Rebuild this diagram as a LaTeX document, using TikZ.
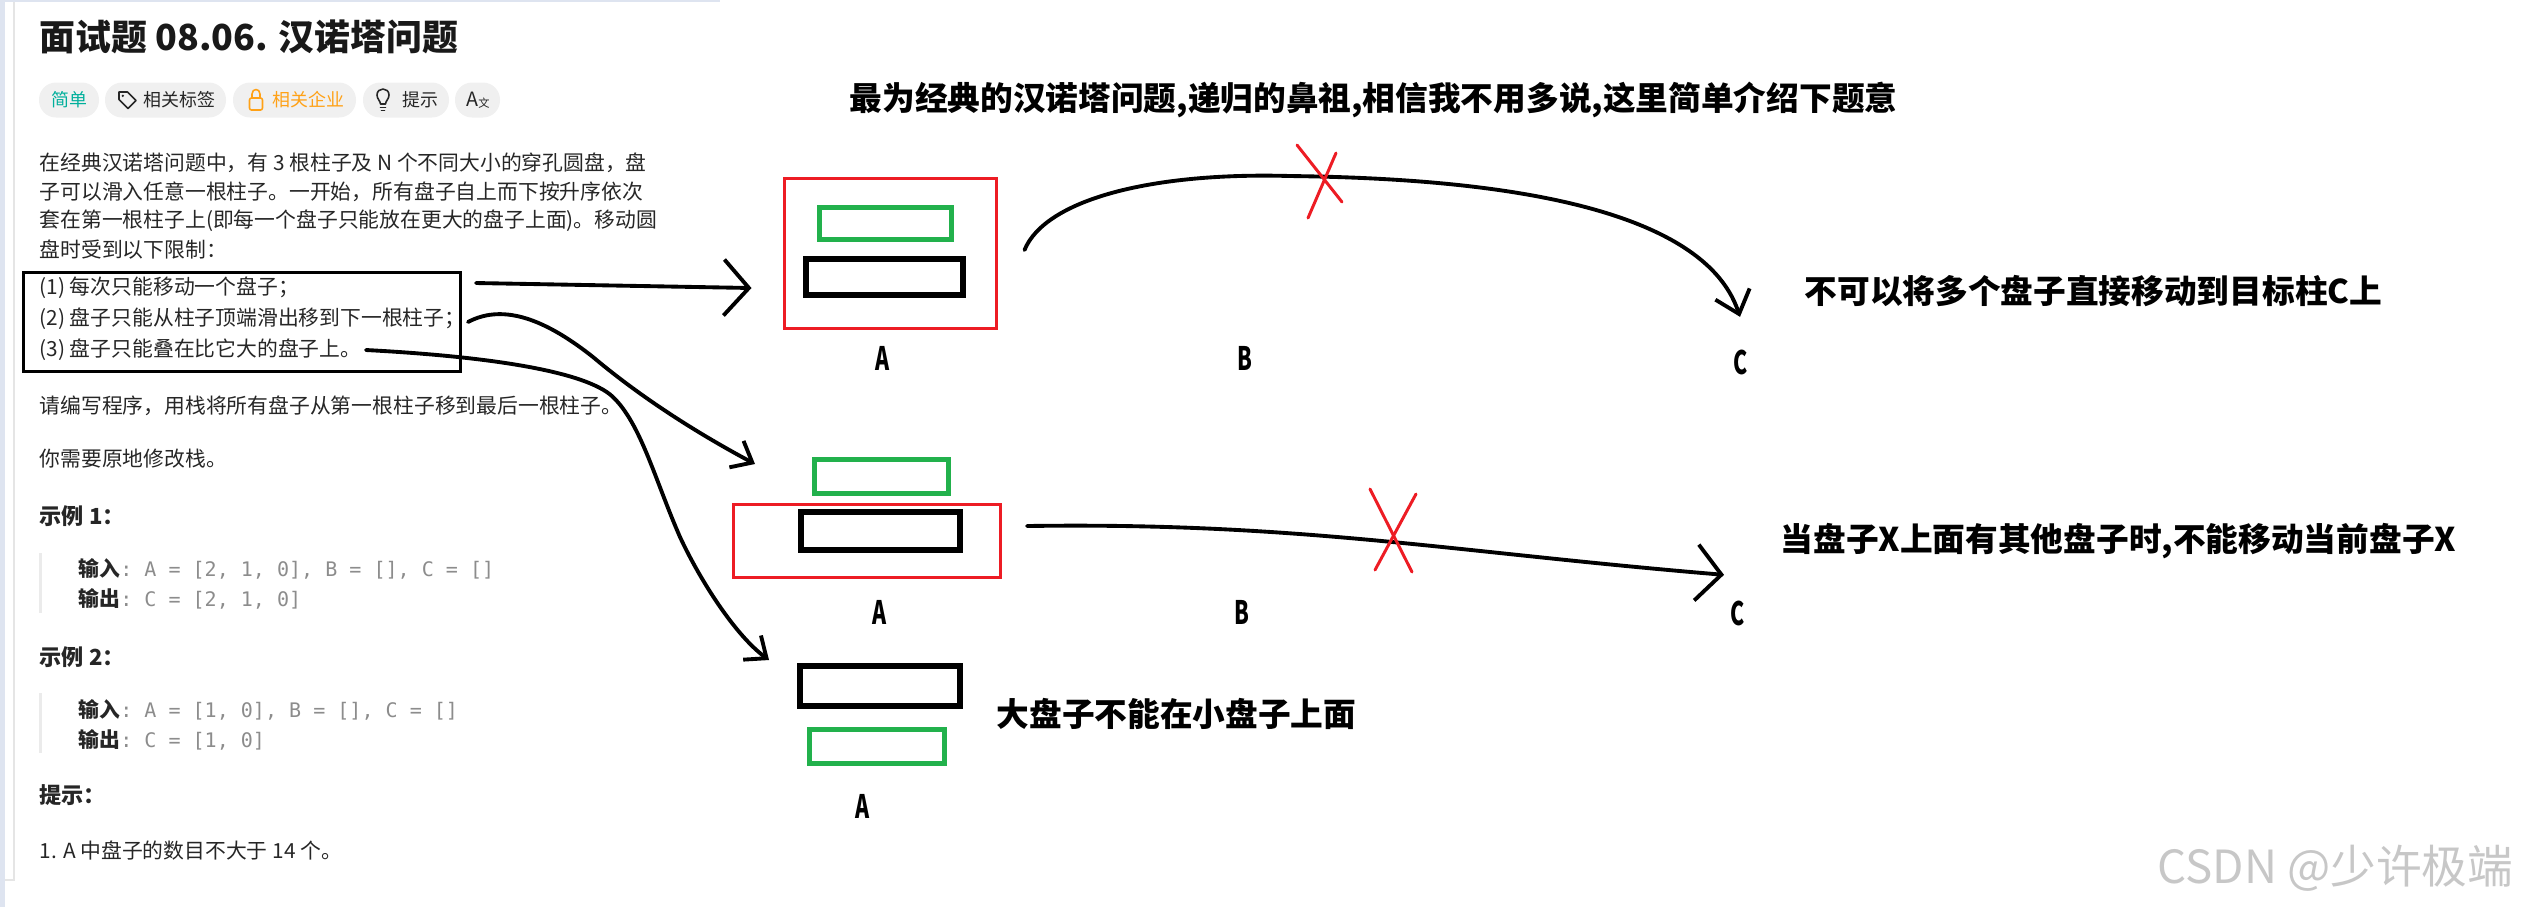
\documentclass[tikz,border=0pt]{standalone}
\usepackage{graphicx}
\usepackage{fontspec}
\setmainfont{Noto Sans CJK SC}
\setmonofont{DejaVu Sans Mono}
\usetikzlibrary{arrows.meta,positioning,calc}
\definecolor{lcText}{RGB}{38,38,38}
\definecolor{lcGray}{RGB}{140,140,140}
\definecolor{lcPill}{RGB}{240,240,240}
\definecolor{lcTeal}{RGB}{0,175,155}
\definecolor{lcOrange}{RGB}{255,161,22}
\definecolor{paintRed}{RGB}{237,28,36}
\definecolor{paintGreen}{RGB}{34,177,76}
\definecolor{panelBlue}{RGB}{222,228,240}
\newcommand\pegname[1]{\scalebox{0.66}[1]{#1}}

\begin{document}
\begin{tikzpicture}[x=0.1mm, y=-0.1mm,
    para/.style={anchor=west, inner sep=0, text=lcText, font=\fontsize{5.92pt}{7pt}\selectfont},
    subhead/.style={para, font=\fontsize{6.3pt}{7pt}\selectfont\bfseries},
    pill/.style={fill=lcPill, rounded corners=1.7mm, minimum height=3.5mm, inner sep=0,
                 font=\fontsize{5.1pt}{6pt}\selectfont},
    pilltext/.style={anchor=west, inner sep=0, font=\fontsize{5.1pt}{6pt}\selectfont},
    icon/.style={line width=0.45pt, line join=round, line cap=round},
    greendisk/.style={draw=paintGreen, line width=1.42pt, inner sep=0},
    blackdisk/.style={draw=black, line width=1.7pt, inner sep=0},
    pegbox/.style={draw=paintRed, line width=0.85pt, inner sep=0},
    peg/.style={inner sep=0, font=\fontsize{9.2pt}{10pt}\selectfont\bfseries},
    note/.style={anchor=west, inner sep=0, font=\fontsize{9.3pt}{10pt}\selectfont\bfseries},
    hand/.style={line width=1.1pt, line cap=round, line join=round},
    barbL/.style={-{Straight Barb[length=2.5mm, width=5.6mm]}},
    barbM/.style={-{Straight Barb[length=2.1mm, width=3.6mm]}},
    barbS/.style={-{Straight Barb[length=1.8mm, width=3.0mm]}},
    cross/.style={paintRed, line width=0.85pt, line cap=round}
  ]
    \useasboundingbox (0,0) rectangle (2526,907);

    % page frame of the problem panel
    \fill[panelBlue] (0,0) rectangle (5,907);
    \fill[panelBlue] (0,0) rectangle (720,2);
    \draw[black!10, line width=0.5pt] (14,2) -- (14,880) -- (5,880);

    % title and tags
    \node[anchor=west, inner sep=0, text=black!90,
          font=\fontsize{10.2pt}{12pt}\selectfont\bfseries] (title) at (39,37)
      {面试题 08.06. 汉诺塔问题};

    \node[pill, minimum width=6mm, text=lcTeal] (easy) at (69,100) {简单};
    \node[pill, minimum width=12.1mm] (tags) at (165.5,100) {};
    \node[pill, minimum width=12.3mm] (company) at (294.5,100) {};
    \node[pill, minimum width=8.6mm] (hint) at (406,100) {};
    \node[pill, minimum width=4.5mm] (lang) at (477.5,100) {};
    \node[pilltext, text=lcText] (tagstext) at (143,100) {相关标签};
    \node[pilltext, text=lcOrange] (companytext) at (272,100) {相关企业};
    \node[pilltext, text=lcText] (hinttext) at (402,100) {提示};
    \node[inner sep=0, text=lcText, font=\fontsize{5.6pt}{6pt}\selectfont] (langA) at (472,99) {A};
    \node[inner sep=0, text=lcText, font=\fontsize{3.2pt}{4pt}\selectfont] (langB) at (484,103) {文};

    % icons
    \draw[icon, lcText] (119,92) -- (127.5,92) -- (136,100.5) -- (128,108.5) -- (119,99.5) -- cycle;
    \fill[lcText] (122.8,95.8) circle (0.13mm);
    \draw[icon, lcOrange, rounded corners=0.2mm] (249.5,98) rectangle (262.5,110);
    \draw[icon, lcOrange] (252,98) -- (252,94) .. controls (252,88) and (260,88) .. (260,94) -- (260,98);
    \draw[icon, lcText] (380.5,104) .. controls (380.5,101) and (377,99) .. (377,95)
      .. controls (377,87) and (389,87) .. (389,95) .. controls (389,99) and (385.5,101) .. (385.5,104) -- cycle;
    \draw[icon, lcText] (380.5,107.5) -- (385.5,107.5);
    \draw[icon, lcText] (381.5,110.5) -- (384.5,110.5);

    % problem text
    \node[para] (intro1) at (39,163) {在经典汉诺塔问题中，有 3 根柱子及 N 个不同大小的穿孔圆盘，盘};
    \node[para] (intro2) at (39,192) {子可以滑入任意一根柱子。一开始，所有盘子自上而下按升序依次};
    \node[para] (intro3) at (39,221) {套在第一根柱子上(即每一个盘子只能放在更大的盘子上面)。移动圆};
    \node[para] (intro4) at (39,250) {盘时受到以下限制：};

    \node[draw, line width=0.85pt, inner sep=0, minimum width=43.7mm, minimum height=9.9mm]
      (rules) at (242,322) {};
    \node[para] (item1) at (39,288) {(1) 每次只能移动一个盘子；};
    \node[para] (item2) at (39,319) {(2) 盘子只能从柱子顶端滑出移到下一根柱子；};
    \node[para] (item3) at (39,350) {(3) 盘子只能叠在比它大的盘子上。};

    \node[para] (task) at (39,406) {请编写程序，用栈将所有盘子从第一根柱子移到最后一根柱子。};
    \node[para] (inplace) at (39,459) {你需要原地修改栈。};

    \node[subhead] (ex1) at (39,516) {示例 1：};
    \fill[black!8] (39,553) rectangle (42,613);
    \node[para] (ex1in) at (78,569) {{\bfseries 输入}{\color{lcGray}\ttfamily\fontsize{5.7pt}{7pt}\selectfont: A = [2, 1, 0], B = [], C = []}};
    \node[para] (ex1out) at (78,599) {{\bfseries 输出}{\color{lcGray}\ttfamily\fontsize{5.7pt}{7pt}\selectfont: C = [2, 1, 0]}};

    \node[subhead] (ex2) at (39,657) {示例 2：};
    \fill[black!8] (39,693) rectangle (42,753);
    \node[para] (ex2in) at (78,710) {{\bfseries 输入}{\color{lcGray}\ttfamily\fontsize{5.7pt}{7pt}\selectfont: A = [1, 0], B = [], C = []}};
    \node[para] (ex2out) at (78,740) {{\bfseries 输出}{\color{lcGray}\ttfamily\fontsize{5.7pt}{7pt}\selectfont: C = [1, 0]}};

    \node[subhead] (tips) at (39,795) {提示：};
    \node[para] (tip1) at (39,850) {1. A 中盘子的数目不大于 14 个。};

    % first sketch: several disks at once
    \node[note] (intronote) at (849,100)
      {最为经典的汉诺塔问题,递归的鼻祖,相信我不用多说,这里简单介绍下题意};
    \node[pegbox, minimum width=21.2mm, minimum height=15.0mm] (stackA) at (890,253.5) {};
    \node[greendisk, minimum width=13.2mm, minimum height=3.2mm] (smallA) at (885.5,223.5) {};
    \node[blackdisk, minimum width=15.7mm, minimum height=3.6mm] (bigA) at (884.5,277) {};
    \node[peg] (pegA1) at (883,358) {\pegname{A}};
    \node[peg] (pegB1) at (1245,358) {\pegname{B}};
    \node[peg] (pegC1) at (1741,362) {\pegname{C}};
    \node[note] (note1) at (1804,291) {不可以将多个盘子直接移动到目标柱C上};

    % second sketch: disk below another one
    \node[greendisk, minimum width=13.4mm, minimum height=3.4mm] (smallA2) at (881.5,476.5) {};
    \node[pegbox, minimum width=26.7mm, minimum height=7.3mm] (stackA2) at (867,541) {};
    \node[blackdisk, minimum width=15.9mm, minimum height=3.8mm] (bigA2) at (880.5,531) {};
    \node[peg] (pegA2) at (880,612) {\pegname{A}};
    \node[peg] (pegB2) at (1242,612) {\pegname{B}};
    \node[peg] (pegC2) at (1738,613) {\pegname{C}};
    \node[note] (note2) at (1780,541) {当盘子X上面有其他盘子时,不能移动当前盘子X};

    % third sketch: big disk on small one
    \node[blackdisk, minimum width=16.0mm, minimum height=4.0mm] (bigA3) at (880,686) {};
    \node[greendisk, minimum width=13.5mm, minimum height=3.4mm] (smallA3) at (877,746.5) {};
    \node[peg] (pegA3) at (863,806) {\pegname{A}};
    \node[note] (note3) at (996,714) {大盘子不能在小盘子上面};

    % hand drawn arrows
    \draw[hand, barbL] ($(rules.east |- 0,283)+(14,0)$) -- ($(stackA.west)+(-31,34.5)$);
    \draw[hand, barbS] ($(rules.east)+(6,0)$)
      .. controls (500,305) and (540,315) .. (593,357)
      .. controls (650,405) and (712,441) .. ($(smallA2.west)+(-57,-12.5)$);
    \draw[hand, barbS] ($(item3.east)+(4,0)$)
      .. controls (480,356) and (585,370) .. (613,397)
      .. controls (641,424) and (655,480) .. (680,537)
      .. controls (700,580) and (735,635) .. ($(bigA3.west)+(-28,-26)$);
    \draw[hand, barbM] ($(stackA.east)+(27,-3.5)$)
      .. controls (1045,200) and (1150,172) .. (1290,176)
      .. controls (1450,178) and (1700,195) .. ($(pegC1.north)+(-1,-32)$);
    \draw[hand, barbL] ($(stackA2.east)+(25,-15)$)
      .. controls (1300,522) and (1450,552) .. ($(pegC2.north)+(-14,-25)$);

    % forbidden moves
    \draw[cross] (1297,145) -- (1342,202);
    \draw[cross] (1336,153) -- (1308,218);
    \draw[cross] (1370,489) -- (1412,572);
    \draw[cross] (1416,494) -- (1375,570);

    % watermark
    \node[anchor=east, inner sep=0, text=black!22, font=\fontsize{13pt}{14pt}\selectfont]
      (mark) at (2514,868) {CSDN @少许极端};
  \end{tikzpicture}
\end{document}
